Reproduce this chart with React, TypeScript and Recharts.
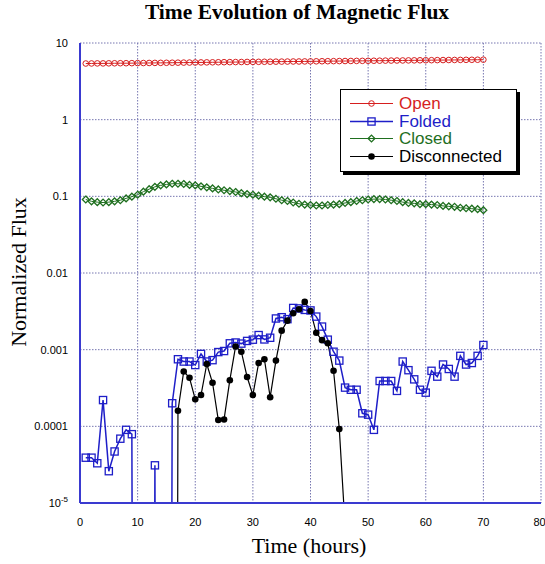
import React from "react";
import { LineChart, Line, XAxis, YAxis, CartesianGrid, Legend } from "recharts";

// hours since start
const hours = [
  1, 2, 3, 4, 5, 6, 7, 8, 9, 10,
  11, 12, 13, 14, 15, 16, 17, 18, 19, 20,
  21, 22, 23, 24, 25, 26, 27, 28, 29, 30,
  31, 32, 33, 34, 35, 36, 37, 38, 39, 40,
  41, 42, 43, 44, 45, 46, 47, 48, 49, 50,
  51, 52, 53, 54, 55, 56, 57, 58, 59, 60,
  61, 62, 63, 64, 65, 66, 67, 68, 69, 70,
];

const openFlux = [
  5.40, 5.41, 5.42, 5.42, 5.43, 5.44, 5.45, 5.45, 5.46, 5.47,
  5.48, 5.49, 5.50, 5.51, 5.52, 5.53, 5.54, 5.55, 5.56, 5.57,
  5.58, 5.59, 5.60, 5.61, 5.62, 5.63, 5.64, 5.65, 5.66, 5.67,
  5.68, 5.69, 5.70, 5.71, 5.72, 5.73, 5.74, 5.74, 5.75, 5.76,
  5.77, 5.78, 5.79, 5.80, 5.81, 5.82, 5.83, 5.84, 5.85, 5.86,
  5.87, 5.88, 5.89, 5.90, 5.91, 5.92, 5.93, 5.94, 5.95, 5.96,
  5.97, 5.98, 5.99, 6.00, 6.01, 6.02, 6.03, 6.04, 6.05, 6.06,
];

// 0 = no folded flux at that hour (drops off the log axis)
const foldedFlux = [
  3.9e-5, 3.9e-5, 3.3e-5, 2.2e-4, 2.6e-5, 4.7e-5, 6.9e-5, 9.0e-5, 7.9e-5, 0,
  0, 0, 3.1e-5, 0, 0, 2.0e-4, 7.5e-4, 7.0e-4, 7.0e-4, 6.3e-4,
  8.8e-4, 7.0e-4, 7.3e-4, 9.3e-4, 9.6e-4, 1.21e-3, 1.24e-3, 1.2e-3, 1.3e-3, 1.35e-3,
  1.55e-3, 1.36e-3, 1.43e-3, 2.55e-3, 2.65e-3, 2.5e-3, 3.5e-3, 3.45e-3, 3.3e-3, 3.25e-3,
  2.7e-3, 2.0e-3, 1.35e-3, 9.4e-4, 7.2e-4, 3.2e-4, 3.0e-4, 3.0e-4, 1.48e-4, 1.42e-4,
  9.0e-5, 3.9e-4, 3.9e-4, 3.9e-4, 2.9e-4, 7.0e-4, 5.4e-4, 4.1e-4, 3.0e-4, 2.75e-4,
  5.3e-4, 4.45e-4, 6.4e-4, 5.6e-4, 4.45e-4, 8.3e-4, 6.4e-4, 6.7e-4, 8.3e-4, 1.15e-3,
];

const closedFlux = [
  0.091, 0.086, 0.084, 0.083, 0.084, 0.086, 0.089, 0.094, 0.099, 0.105,
  0.115, 0.124, 0.133, 0.139, 0.143, 0.146, 0.146, 0.145, 0.141, 0.139,
  0.135, 0.131, 0.127, 0.123, 0.120, 0.117, 0.114, 0.110, 0.107, 0.105,
  0.102, 0.099, 0.097, 0.093, 0.089, 0.087, 0.083, 0.080, 0.078, 0.077,
  0.076, 0.076, 0.077, 0.078, 0.079, 0.082, 0.084, 0.087, 0.089, 0.091,
  0.092, 0.092, 0.091, 0.089, 0.087, 0.084, 0.082, 0.081, 0.079, 0.079,
  0.078, 0.077, 0.075, 0.074, 0.073, 0.071, 0.070, 0.069, 0.068, 0.066,
];

const disconnectedFlux: (number | null)[] = [
  null, null, null, null, null, null, null, null, null, null,
  null, null, null, null, null, 0, 1.6e-4, 5.2e-4, 4.3e-4, 2.25e-4,
  2.56e-4, 6.5e-4, 3.7e-4, 1.21e-4, 1.23e-4, 4.0e-4, 1.1e-3, 9.4e-4, 4.4e-4, 2.56e-4,
  6.7e-4, 7.5e-4, 2.4e-4, 7.2e-4, 1.77e-3, 2.39e-3, 2.98e-3, 3.36e-3, 4.2e-3, 3.2e-3,
  1.66e-3, 1.33e-3, 1.21e-3, 5.3e-4, 9.2e-5, 5e-6, null, null, null, null,
  null, null, null, null, null, null, null, null, null, null,
  null, null, null, null, null, null, null, null, null, null,
];

const xTicks = [0, 10, 20, 30, 40, 50, 60, 70, 80];
const yTicks = [1e-5, 1e-4, 1e-3, 1e-2, 1e-1, 1, 10];
const yTickLabels = ["10^-5", "0.0001", "0.001", "0.01", "0.1", "1", "10"];

const FRAME = "#3a3ad0";
const SANS = "'Liberation Sans', Arial, Helvetica, sans-serif";
const SERIF = "'Liberation Serif', 'Times New Roman', Times, serif";

// zero can't sit on a log axis: push it far below the floor so the line drops off
const onLog = (v: number | null) => (v === null ? null : v <= 0 ? 1e-30 : v);

const rows = hours.map((h, i) => ({
  t: h,
  open: onLog(openFlux[i]),
  folded: onLog(foldedFlux[i]),
  closed: onLog(closedFlux[i]),
  disconnected: onLog(disconnectedFlux[i]),
}));

type Shape = "circle" | "square" | "diamond" | "dot";

const series: { key: string; name: string; color: string; shape: Shape; width: number }[] = [
  { key: "open", name: "Open", color: "#d61e1e", shape: "circle", width: 1 },
  { key: "folded", name: "Folded", color: "#1e1ec8", shape: "square", width: 1.5 },
  { key: "closed", name: "Closed", color: "#1f6f1f", shape: "diamond", width: 1 },
  { key: "disconnected", name: "Disconnected", color: "#000000", shape: "dot", width: 1.2 },
];

function Marker({ shape, cx, cy, color }: { shape: Shape; cx: number; cy: number; color: string }) {
  if (shape === "circle") {
    return <circle cx={cx} cy={cy} r={2.8} fill="none" stroke={color} strokeWidth={1} />;
  }
  if (shape === "square") {
    return <rect x={cx - 3.6} y={cy - 3.6} width={7.2} height={7.2} fill="none" stroke={color} strokeWidth={1.3} />;
  }
  if (shape === "diamond") {
    const d = 3.4;
    return (
      <polygon
        points={`${cx},${cy - d} ${cx + d},${cy} ${cx},${cy + d} ${cx - d},${cy}`}
        fill="none"
        stroke={color}
        strokeWidth={1.3}
      />
    );
  }
  return <circle cx={cx} cy={cy} r={3.3} fill={color} />;
}

function YTickLabel({ x, y, index }: any) {
  const [base, exp] = yTickLabels[index].split("^");
  return (
    <text x={x} y={y} dy={4} textAnchor="end" fontSize={11} fontFamily={SANS} fill="#000">
      {base}
      {exp && (
        <tspan dy={-5} fontSize={8}>
          {exp}
        </tspan>
      )}
    </text>
  );
}

function LegendBox() {
  return (
    <div
      style={{
        boxSizing: "border-box",
        width: 177,
        height: 83,
        background: "#fff",
        border: "1.5px solid #000",
        boxShadow: "3px 3px 0 #000",
        padding: "5px 0 0 9px",
        fontFamily: SANS,
        fontSize: 17,
      }}
    >
      {series.map((s) => (
        <div key={s.key} style={{ display: "flex", alignItems: "center", height: 17.5, color: s.color }}>
          <svg width={44} height={17} style={{ display: "block" }}>
            <line x1={0} y1={8.5} x2={43} y2={8.5} stroke={s.color} strokeWidth={s.width} />
            <Marker shape={s.shape} cx={21.5} cy={8.5} color={s.color} />
          </svg>
          <span style={{ marginLeft: 5, lineHeight: "17px" }}>{s.name}</span>
        </div>
      ))}
    </div>
  );
}

export default function App() {
  return (
    <div style={{ position: "absolute", left: 0, top: 0, width: 545, height: 564, background: "#fff" }}>
      <div
        style={{
          position: "absolute",
          left: 297,
          top: 0,
          transform: "translateX(-50%)",
          whiteSpace: "nowrap",
          fontFamily: SERIF,
          fontWeight: "bold",
          fontSize: 21.5,
          lineHeight: "24px",
        }}
      >
        Time Evolution of Magnetic Flux
      </div>
      <div
        style={{
          position: "absolute",
          left: 19,
          top: 272,
          transform: "translate(-50%, -50%) rotate(-90deg)",
          whiteSpace: "nowrap",
          fontFamily: SERIF,
          fontSize: 22,
          lineHeight: "22px",
        }}
      >
        Normalized Flux
      </div>
      <div
        style={{
          position: "absolute",
          left: 309,
          top: 535,
          transform: "translateX(-50%)",
          whiteSpace: "nowrap",
          fontFamily: SERIF,
          fontSize: 22,
          lineHeight: "22px",
        }}
      >
        Time (hours)
      </div>
      <LineChart width={545} height={564} data={rows} margin={{ top: 43, right: 4, bottom: 31, left: 20 }}>
        <CartesianGrid stroke="#7676b0" strokeDasharray="1.5 1.5" strokeWidth={1} />
        <XAxis
          dataKey="t"
          type="number"
          domain={[0, 80]}
          ticks={xTicks}
          height={30}
          tickLine={false}
          tickSize={6}
          tickMargin={9}
          axisLine={{ stroke: FRAME, strokeWidth: 2 }}
          tick={{ fontSize: 11, fontFamily: SANS, fill: "#000" }}
        />
        <XAxis
          xAxisId="inner"
          dataKey="t"
          type="number"
          domain={[0, 80]}
          ticks={xTicks}
          height={0}
          mirror
          tick={false}
          tickSize={5}
          axisLine={false}
          tickLine={{ stroke: FRAME, strokeWidth: 1.5 }}
        />
        <XAxis
          xAxisId="top"
          orientation="top"
          dataKey="t"
          type="number"
          domain={[0, 80]}
          ticks={xTicks}
          height={0}
          mirror
          tick={false}
          tickSize={5}
          axisLine={{ stroke: FRAME, strokeWidth: 2 }}
          tickLine={{ stroke: FRAME, strokeWidth: 1.5 }}
        />
        <YAxis
          scale="log"
          type="number"
          domain={[1e-5, 10]}
          allowDataOverflow
          ticks={yTicks}
          width={60}
          tickLine={false}
          tickSize={6}
          tickMargin={6}
          axisLine={{ stroke: FRAME, strokeWidth: 2 }}
          tick={<YTickLabel />}
        />
        <YAxis
          yAxisId="inner"
          scale="log"
          type="number"
          domain={[1e-5, 10]}
          allowDataOverflow
          ticks={yTicks}
          width={0}
          mirror
          tick={false}
          tickSize={6}
          axisLine={false}
          tickLine={{ stroke: FRAME, strokeWidth: 1.5 }}
        />
        <YAxis
          yAxisId="right"
          orientation="right"
          scale="log"
          type="number"
          domain={[1e-5, 10]}
          allowDataOverflow
          ticks={yTicks}
          width={0}
          mirror
          tick={false}
          tickSize={6}
          axisLine={{ stroke: FRAME, strokeWidth: 2 }}
          tickLine={{ stroke: FRAME, strokeWidth: 1.5 }}
        />
        {series.map((s) => (
          <Line
            key={s.key}
            dataKey={s.key}
            name={s.name}
            type="linear"
            stroke={s.color}
            strokeWidth={s.width}
            isAnimationActive={false}
            activeDot={false}
            dot={(p: any) =>
              p.value == null || p.cy == null ? (
                <g key={`${s.key}-${p.index}`} />
              ) : (
                <g key={`${s.key}-${p.index}`}>
                  <Marker shape={s.shape} cx={p.cx} cy={p.cy} color={s.color} />
                </g>
              )
            }
          />
        ))}
        <Legend
          layout="vertical"
          align="center"
          verticalAlign="middle"
          wrapperStyle={{ left: 340, top: 89, width: 177, height: 83 }}
          content={() => <LegendBox />}
        />
      </LineChart>
    </div>
  );
}
